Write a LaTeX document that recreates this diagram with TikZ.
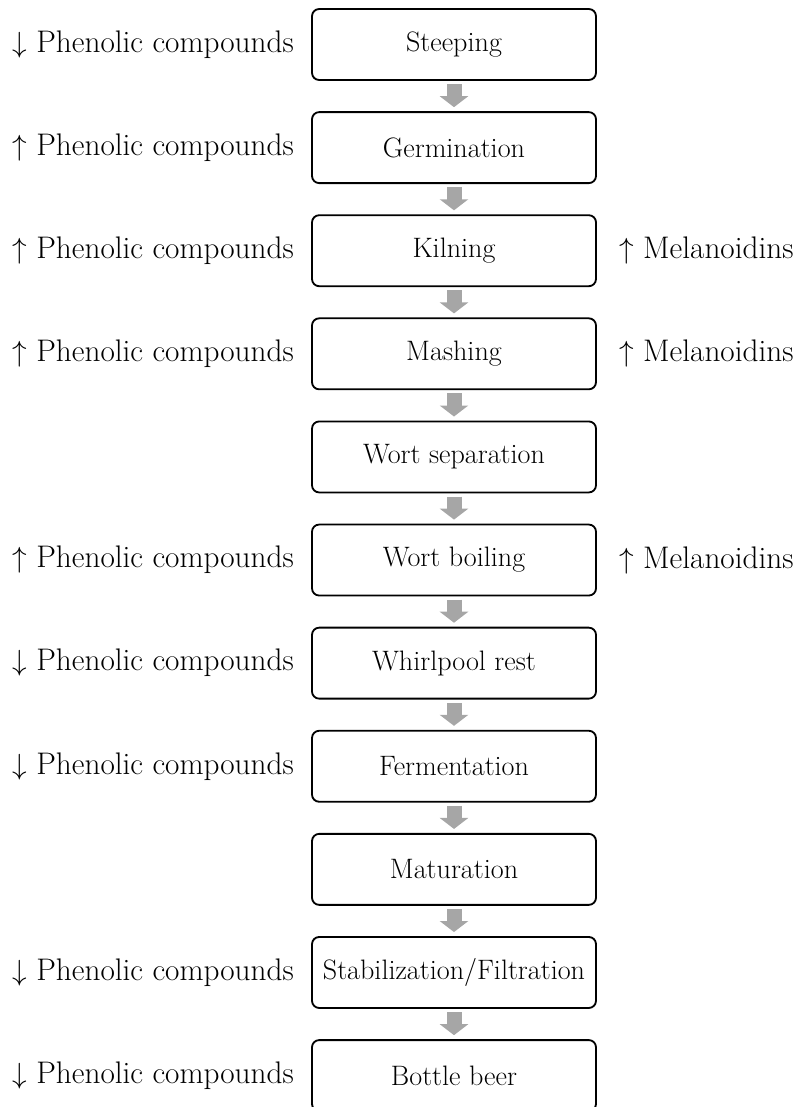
\documentclass[tikz,border=0pt]{standalone}
\usetikzlibrary{positioning,arrows.meta}
\definecolor{arrowgray}{RGB}{166,166,166}
\tikzset{
  stage/.style={draw, line width=1.3pt, rounded corners=0.18cm,
    minimum width=7.1cm, minimum height=1.775cm, inner sep=0pt,
    font=\fontsize{20}{23}\selectfont},
  effect/.style={inner sep=0pt, font=\fontsize{22.2}{26}\selectfont},
  flow/.style={draw=arrowgray, line width=0.375cm,
    -{Triangle[width=0.7cm,length=0.275cm]},
    shorten <=0.08cm, shorten >=0.1cm}
}
\begin{document}
\begin{tikzpicture}
\clip (0,0) rectangle (19.95,-27.675);
 % process stages:
\node[stage] (steep) at (11.35,-1.1125) {Steeping};
\node[stage, below=0.757cm of steep] (germ) {Germination};
\node[stage, below=0.757cm of germ] (kiln) {Kilning};
\node[stage, below=0.757cm of kiln] (mash) {Mashing};
\node[stage, below=0.757cm of mash] (wsep) {Wort separation};
\node[stage, below=0.757cm of wsep] (wboil) {Wort boiling};
\node[stage, below=0.757cm of wboil] (whirl) {Whirlpool rest};
\node[stage, below=0.757cm of whirl] (ferm) {Fermentation};
\node[stage, below=0.757cm of ferm] (matur) {Maturation};
\node[stage, below=0.757cm of matur] (stab) {Stabilization/Filtration};
\node[stage, below=0.757cm of stab] (bottle) {Bottle beer};
 % gray arrows between stages:
\draw[flow] (steep.south) -- (germ.north);
\draw[flow] (germ.south) -- (kiln.north);
\draw[flow] (kiln.south) -- (mash.north);
\draw[flow] (mash.south) -- (wsep.north);
\draw[flow] (wsep.south) -- (wboil.north);
\draw[flow] (wboil.south) -- (whirl.north);
\draw[flow] (whirl.south) -- (ferm.north);
\draw[flow] (ferm.south) -- (matur.north);
\draw[flow] (matur.south) -- (stab.north);
\draw[flow] (stab.south) -- (bottle.north);
 % phenolic compounds (left):
\node[effect, left=0.425cm of steep] (phSteep) {$\downarrow$ Phenolic compounds};
\node[effect, left=0.425cm of germ] (phGerm) {$\uparrow$ Phenolic compounds};
\node[effect, left=0.425cm of kiln] (phKiln) {$\uparrow$ Phenolic compounds};
\node[effect, left=0.425cm of mash] (phMash) {$\uparrow$ Phenolic compounds};
\node[effect, left=0.425cm of wboil] (phBoil) {$\uparrow$ Phenolic compounds};
\node[effect, left=0.425cm of whirl] (phWhirl) {$\downarrow$ Phenolic compounds};
\node[effect, left=0.425cm of ferm] (phFerm) {$\downarrow$ Phenolic compounds};
\node[effect, left=0.425cm of stab] (phStab) {$\downarrow$ Phenolic compounds};
\node[effect, left=0.425cm of bottle] (phBottle) {$\downarrow$ Phenolic compounds};
 % melanoidins (right):
\node[effect, right=0.55cm of kiln] (melKiln) {$\uparrow$ Melanoidins};
\node[effect, right=0.55cm of mash] (melMash) {$\uparrow$ Melanoidins};
\node[effect, right=0.55cm of wboil] (melBoil) {$\uparrow$ Melanoidins};
\end{tikzpicture}
\end{document}
